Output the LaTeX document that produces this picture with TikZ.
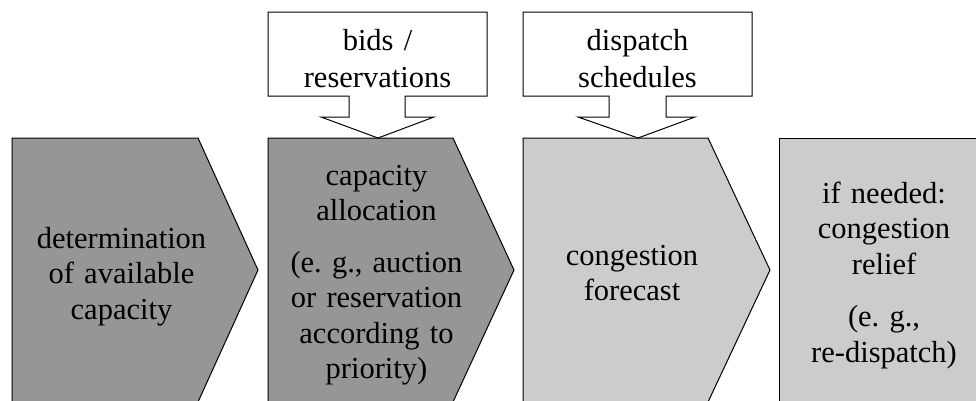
\documentclass[tikz,border=0pt]{standalone}
\usepackage{fontspec}
\setmainfont{Liberation Serif}
\definecolor{darkfill}{RGB}{150,150,150}
\definecolor{lightfill}{RGB}{204,204,204}
\begin{document}
\begin{tikzpicture}[x=1pt,y=-1pt,
  stage/.style={draw=black,line width=1pt,line join=miter},
  inbox/.style={draw=black,fill=white,line width=1pt,line join=miter},
  lbl/.style={font=\fontsize{30.5}{35.5}\selectfont,align=center,inner sep=0pt,anchor=base,text width=210pt},
  inlbl/.style={font=\fontsize{30.5}{37}\selectfont,align=center,inner sep=0pt,anchor=base,text width=210pt},
]
\useasboundingbox (0,0) rectangle (976,400);
\clip (0,0) rectangle (976,400);
% process stages
\draw[stage,fill=darkfill] (12,138) -- (198,138) -- (258,270) -- (198,402) -- (12,402) -- cycle;
\draw[stage,fill=darkfill] (268,138) -- (453,138) -- (514,270) -- (453,402) -- (268,402) -- cycle;
\draw[stage,fill=lightfill] (523,138) -- (708,138) -- (770,270) -- (708,402) -- (523,402) -- cycle;
\draw[stage,fill=lightfill] (779,138) rectangle (995,410);
% input boxes with block arrows
\draw[inbox] (268,12) -- (487,12) -- (487,96) -- (405,96) -- (405,117) -- (434,117) -- (378,138)
  -- (321,117) -- (349,117) -- (349,96) -- (268,96) -- cycle;
\draw[inbox] (523,12) -- (752,12) -- (752,96) -- (666,96) -- (666,117) -- (695,117) -- (638,138)
  -- (578,117) -- (609,117) -- (609,96) -- (523,96) -- cycle;
% labels
\node[lbl] (det) at (121.5,248) {determination\\of available\\capacity};
\node[lbl] (alloc) at (376.5,185) {capacity\\allocation\\[16pt](e.\ g., auction\\or reservation\\according to\\priority)};
\node[lbl] (forecast) at (632,265) {congestion\\forecast};
\node[lbl] (relief) at (884,203) {if needed:\\congestion\\relief\\[17pt](e.\ g.,\\re-dispatch)};
\node[inlbl] (bids) at (377.5,50) {bids /\\reservations};
\node[inlbl] (sched) at (637.5,50) {dispatch\\schedules};
\end{tikzpicture}
\end{document}
